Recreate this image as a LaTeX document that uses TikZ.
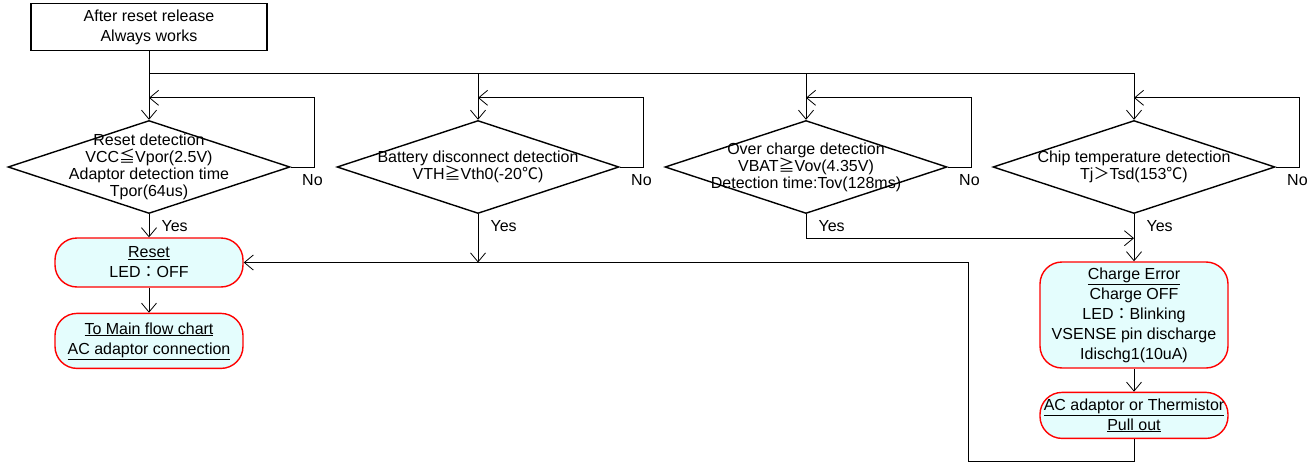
\documentclass[tikz,border=0pt]{standalone}
\usepackage{fontspec}
\setmainfont{Liberation Sans}
\newfontfamily\jpfont{Noto Sans CJK JP}
\usepackage{xcolor}
\usepackage{tikz}
\usetikzlibrary{shapes.geometric, positioning, arrows.meta}
\definecolor{boxfill}{HTML}{E4FDFD}

\begin{document}
\begin{tikzpicture}[x=1pt, y=-1pt, >={Straight Barb[length=9pt,width=15pt]},
    every node/.style={font=\fontsize{16}{17}\selectfont},
    startbox/.style={draw, line width=1.4pt, minimum width=236pt, minimum height=47pt,
        align=center, font=\fontsize{16}{20}\selectfont},
    decision/.style={draw, diamond, line width=1.4pt, minimum width=282pt,
        minimum height=93pt, inner sep=0pt},
    statebox/.style={draw=red, line width=1.4pt, fill=boxfill, rounded corners=22pt,
        minimum width=188pt, inner sep=2pt, align=center, font=\fontsize{16}{20}\selectfont},
    flow/.style={line width=0.8pt}]
    \useasboundingbox (0,0) rectangle (1310,463);

    % Khối bắt đầu
    \node[startbox] (start) at (149,27) {After reset release\\Always works};

    % Các khối điều kiện
    \node[decision] (d1) at (149,167) {};
    \node[decision] (d2) at (478,167) {};
    \node[decision] (d3) at (806,167) {};
    \node[decision] (d4) at (1134,167) {};
    \node[align=center] (t1) at (d1) {Reset detection\\VCC{\jpfont ≦}Vpor(2.5V)\\Adaptor detection time\\Tpor(64us)};
    \node[align=center] (t2) at (d2) {Battery disconnect detection\\VTH{\jpfont ≧}Vth0(-20{\jpfont ℃})};
    \node[align=center] (t3) at (d3) {Over charge detection\\VBAT{\jpfont ≧}Vov(4.35V)\\Detection time:Tov(128ms)};
    \node[align=center] (t4) at (d4) {Chip temperature detection\\Tj{\jpfont ＞}Tsd(153{\jpfont ℃})};

    % Các khối trạng thái
    \node[statebox, minimum height=49pt] (reset) at (149,262.5) {\underline{Reset}\\LED{\jpfont ：}OFF};
    \node[statebox, minimum height=55pt, below=25pt of reset] (mainfc)
        {\underline{To Main flow chart}\\\underline{AC adaptor connection}};
    \node[statebox, minimum height=106pt] (err) at (1134,315)
        {\underline{Charge Error}\\Charge OFF\\LED{\jpfont ：}Blinking\\VSENSE pin discharge\\Idischg1(10uA)};
    \node[statebox, minimum height=46pt, below=23pt of err] (pull)
        {\underline{AC adaptor or Thermistor}\\\underline{Pull out}};

    % Đường nối từ khối bắt đầu
    \coordinate (split) at (149,73);
    \draw[flow,->] (start.south) -- (d1.north);
    \draw[flow,->] (split) -| (d2.north);
    \draw[flow,->] (split) -| (d3.north);
    \draw[flow,->] (split) -| (d4.north);

    % Vòng lặp No và nhãn Yes
    \foreach \d in {1,...,4} {
        \draw[flow,->] (d\d.east) -- ++(24,0) |- ([yshift=22pt]d\d.north);
        \node[anchor=west] (no\d) at ([xshift=8pt,yshift=-13pt]d\d.east) {No};
        \node[anchor=west] (yes\d) at ([xshift=9pt,yshift=-12pt]d\d.south) {Yes};
    }

    % Nhánh Yes
    \coordinate (m3) at ([yshift=-24pt]d4.south);
    \coordinate (back) at (968,461);
    \draw[flow,->] (d1.south) -- (reset.north);
    \draw[flow,->] (reset.south) -- (mainfc.north);
    \draw[flow,->] (d2.south) -- (d2.south |- reset.east);
    \draw[flow,->] (d3.south) |- (m3);
    \draw[flow,->] (d4.south) -- (err.north);
    \draw[flow,->] (err.south) -- (pull.north);
    \draw[flow,->] (pull.south) |- (back) |- (reset.east);
\end{tikzpicture}
\end{document}
